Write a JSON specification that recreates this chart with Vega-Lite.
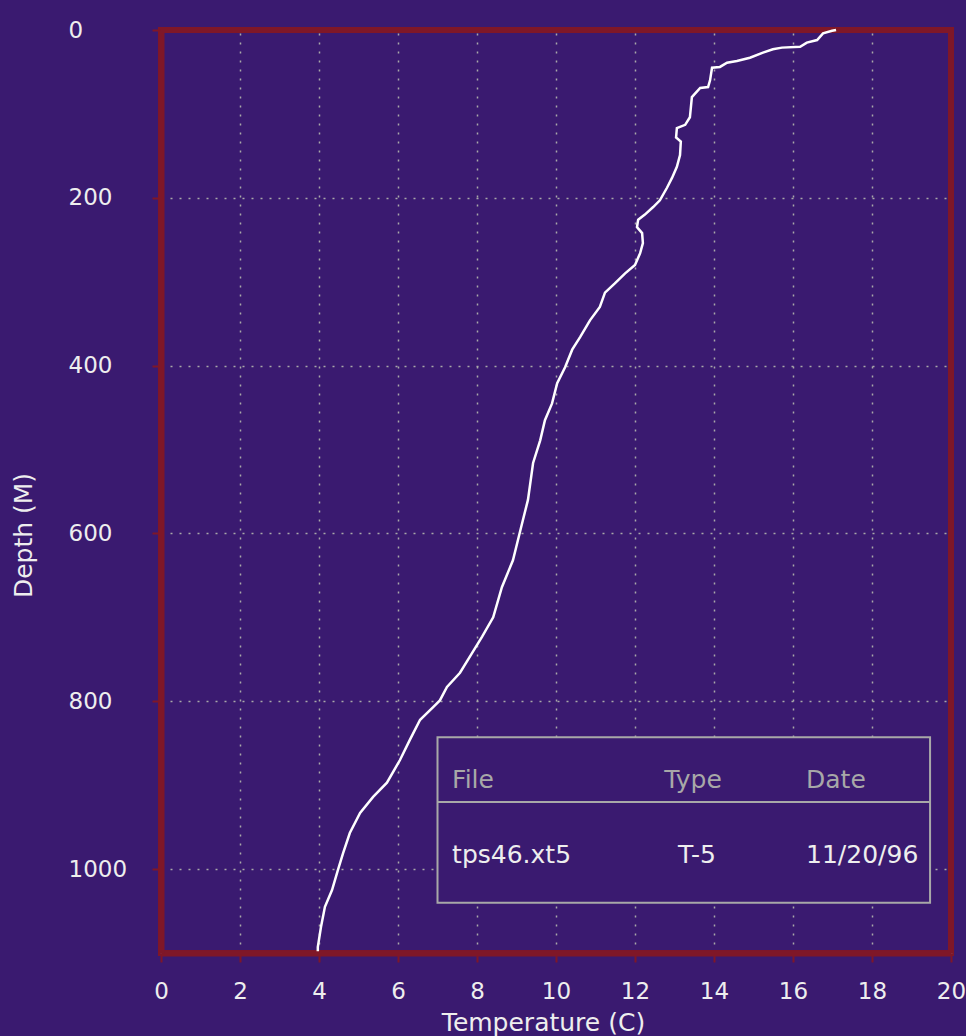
{
  "$schema": "https://vega.github.io/schema/vega-lite/v6.json",
  "width": 790,
  "height": 923,
  "autosize": {"type": "none"},
  "padding": {"left": 161, "top": 30, "right": 15, "bottom": 83},
  "background": "#3a1a70",
  "datasets": {
    "profile": [
      {"temperature": 17.09, "depth": 0},
      {"temperature": 16.99, "depth": 1},
      {"temperature": 16.76, "depth": 4},
      {"temperature": 16.61, "depth": 12},
      {"temperature": 16.35, "depth": 15},
      {"temperature": 16.18, "depth": 20},
      {"temperature": 15.72, "depth": 21},
      {"temperature": 15.49, "depth": 23},
      {"temperature": 15.24, "depth": 27},
      {"temperature": 14.91, "depth": 33},
      {"temperature": 14.58, "depth": 37},
      {"temperature": 14.33, "depth": 39},
      {"temperature": 14.15, "depth": 44},
      {"temperature": 13.95, "depth": 45},
      {"temperature": 13.9, "depth": 60},
      {"temperature": 13.85, "depth": 68},
      {"temperature": 13.65, "depth": 69},
      {"temperature": 13.44, "depth": 80},
      {"temperature": 13.39, "depth": 104},
      {"temperature": 13.27, "depth": 113},
      {"temperature": 13.06, "depth": 117},
      {"temperature": 13.04, "depth": 128},
      {"temperature": 13.16, "depth": 133},
      {"temperature": 13.14, "depth": 149},
      {"temperature": 13.06, "depth": 163},
      {"temperature": 12.94, "depth": 176},
      {"temperature": 12.81, "depth": 188},
      {"temperature": 12.63, "depth": 203},
      {"temperature": 12.46, "depth": 211},
      {"temperature": 12.25, "depth": 220},
      {"temperature": 12.08, "depth": 226},
      {"temperature": 12.05, "depth": 235},
      {"temperature": 12.18, "depth": 242},
      {"temperature": 12.2, "depth": 254},
      {"temperature": 12.13, "depth": 266},
      {"temperature": 12.0, "depth": 280},
      {"temperature": 11.75, "depth": 290},
      {"temperature": 11.49, "depth": 302},
      {"temperature": 11.24, "depth": 313},
      {"temperature": 11.11, "depth": 330},
      {"temperature": 10.86, "depth": 346},
      {"temperature": 10.61, "depth": 366},
      {"temperature": 10.41, "depth": 381},
      {"temperature": 10.23, "depth": 402},
      {"temperature": 10.03, "depth": 421},
      {"temperature": 9.9, "depth": 445},
      {"temperature": 9.72, "depth": 465},
      {"temperature": 9.6, "depth": 489},
      {"temperature": 9.42, "depth": 516},
      {"temperature": 9.29, "depth": 560},
      {"temperature": 9.12, "depth": 592},
      {"temperature": 8.91, "depth": 632},
      {"temperature": 8.63, "depth": 664},
      {"temperature": 8.41, "depth": 700},
      {"temperature": 8.13, "depth": 723},
      {"temperature": 7.87, "depth": 743},
      {"temperature": 7.57, "depth": 766},
      {"temperature": 7.24, "depth": 783},
      {"temperature": 7.06, "depth": 799},
      {"temperature": 6.89, "depth": 807},
      {"temperature": 6.56, "depth": 822},
      {"temperature": 6.3, "depth": 846},
      {"temperature": 6.05, "depth": 870},
      {"temperature": 5.72, "depth": 897},
      {"temperature": 5.37, "depth": 914},
      {"temperature": 5.04, "depth": 933},
      {"temperature": 4.78, "depth": 957},
      {"temperature": 4.61, "depth": 981},
      {"temperature": 4.48, "depth": 1001},
      {"temperature": 4.33, "depth": 1025},
      {"temperature": 4.15, "depth": 1045},
      {"temperature": 4.05, "depth": 1069},
      {"temperature": 3.97, "depth": 1093},
      {"temperature": 3.97, "depth": 1098}
    ],
    "legend": [
      {"File": "tps46.xt5", "Type": "T-5", "Date": "11/20/96"}
    ]
  },
  "layer": [
    {
      "data": {"name": "legend"},
      "mark": {"type": "rule", "stroke": "#7f1728", "strokeWidth": 6},
      "encoding": {
        "x": {"datum": 20, "type": "quantitative", "title": "Temperature (C)", "axis": {"values": [0, 2, 4, 6, 8, 10, 12, 14, 16, 18, 20], "format": "d"}},
        "y": {"datum": 0, "type": "quantitative", "title": "Depth (M)", "axis": {"values": [0, 200, 400, 600, 800, 1000], "format": "d"}},
        "y2": {"datum": 1100}
      }
    },
    {
      "data": {"name": "legend"},
      "mark": {"type": "rule", "stroke": "#7f1728", "strokeWidth": 6},
      "encoding": {
        "x": {"datum": 0, "type": "quantitative", "title": "Temperature (C)", "axis": {"values": [0, 2, 4, 6, 8, 10, 12, 14, 16, 18, 20], "format": "d"}},
        "x2": {"datum": 20},
        "y": {"datum": 0, "type": "quantitative", "title": "Depth (M)", "axis": {"values": [0, 200, 400, 600, 800, 1000], "format": "d"}}
      }
    },
    {
      "data": {"name": "profile"},
      "mark": {"type": "line", "color": "#ffffff", "strokeWidth": 2.5},
      "encoding": {
        "x": {"field": "temperature", "type": "quantitative", "title": "Temperature (C)", "scale": {"domain": [0, 20], "nice": false, "zero": false},
              "axis": {"values": [0, 2, 4, 6, 8, 10, 12, 14, 16, 18, 20], "format": "d"}},
        "y": {"field": "depth", "type": "quantitative", "title": "Depth (M)", "scale": {"domain": [0, 1100], "nice": false, "reverse": true},
              "axis": {"values": [0, 200, 400, 600, 800, 1000], "format": "d"}},
        "order": {"field": "depth", "type": "quantitative"}
      }
    },
    {
      "data": {"name": "legend"},
      "mark": {"type": "rect", "fill": "#3a1a70", "stroke": "#a8a8a8", "strokeWidth": 2},
      "encoding": {
        "x": {"datum": 7.0, "type": "quantitative", "title": "Temperature (C)", "axis": {"values": [0, 2, 4, 6, 8, 10, 12, 14, 16, 18, 20], "format": "d"}},
        "x2": {"datum": 19.47},
        "y": {"datum": 843, "type": "quantitative", "title": "Depth (M)", "axis": {"values": [0, 200, 400, 600, 800, 1000], "format": "d"}},
        "y2": {"datum": 1040}
      }
    },
    {
      "data": {"name": "legend"},
      "mark": {"type": "rule", "stroke": "#a8a8a8", "strokeWidth": 2},
      "encoding": {
        "x": {"datum": 7.0, "type": "quantitative", "title": "Temperature (C)", "axis": {"values": [0, 2, 4, 6, 8, 10, 12, 14, 16, 18, 20], "format": "d"}},
        "x2": {"datum": 19.47},
        "y": {"datum": 920, "type": "quantitative", "title": "Depth (M)", "axis": {"values": [0, 200, 400, 600, 800, 1000], "format": "d"}}
      }
    },
    {
      "data": {"name": "legend"},
      "mark": {"type": "text", "text": "File", "align": "left", "baseline": "middle", "font": "DejaVu Sans", "fontSize": 25, "color": "#a8a8a8"},
      "encoding": {
        "x": {"datum": 7.37, "type": "quantitative", "title": "Temperature (C)", "axis": {"values": [0, 2, 4, 6, 8, 10, 12, 14, 16, 18, 20], "format": "d"}},
        "y": {"datum": 894, "type": "quantitative", "title": "Depth (M)", "axis": {"values": [0, 200, 400, 600, 800, 1000], "format": "d"}}
      }
    },
    {
      "data": {"name": "legend"},
      "mark": {"type": "text", "text": "Type", "align": "center", "baseline": "middle", "font": "DejaVu Sans", "fontSize": 25, "color": "#a8a8a8"},
      "encoding": {
        "x": {"datum": 13.47, "type": "quantitative", "title": "Temperature (C)", "axis": {"values": [0, 2, 4, 6, 8, 10, 12, 14, 16, 18, 20], "format": "d"}},
        "y": {"datum": 894, "type": "quantitative", "title": "Depth (M)", "axis": {"values": [0, 200, 400, 600, 800, 1000], "format": "d"}}
      }
    },
    {
      "data": {"name": "legend"},
      "mark": {"type": "text", "text": "Date", "align": "left", "baseline": "middle", "font": "DejaVu Sans", "fontSize": 25, "color": "#a8a8a8"},
      "encoding": {
        "x": {"datum": 16.33, "type": "quantitative", "title": "Temperature (C)", "axis": {"values": [0, 2, 4, 6, 8, 10, 12, 14, 16, 18, 20], "format": "d"}},
        "y": {"datum": 894, "type": "quantitative", "title": "Depth (M)", "axis": {"values": [0, 200, 400, 600, 800, 1000], "format": "d"}}
      }
    },
    {
      "data": {"name": "legend"},
      "mark": {"type": "text", "align": "left", "baseline": "middle", "font": "DejaVu Sans", "fontSize": 25, "color": "#eeeeee"},
      "encoding": {
        "text": {"field": "File"},
        "x": {"datum": 7.37, "type": "quantitative", "title": "Temperature (C)", "axis": {"values": [0, 2, 4, 6, 8, 10, 12, 14, 16, 18, 20], "format": "d"}},
        "y": {"datum": 983, "type": "quantitative", "title": "Depth (M)", "axis": {"values": [0, 200, 400, 600, 800, 1000], "format": "d"}}
      }
    },
    {
      "data": {"name": "legend"},
      "mark": {"type": "text", "align": "center", "baseline": "middle", "font": "DejaVu Sans", "fontSize": 25, "color": "#eeeeee"},
      "encoding": {
        "text": {"field": "Type"},
        "x": {"datum": 13.57, "type": "quantitative", "title": "Temperature (C)", "axis": {"values": [0, 2, 4, 6, 8, 10, 12, 14, 16, 18, 20], "format": "d"}},
        "y": {"datum": 983, "type": "quantitative", "title": "Depth (M)", "axis": {"values": [0, 200, 400, 600, 800, 1000], "format": "d"}}
      }
    },
    {
      "data": {"name": "legend"},
      "mark": {"type": "text", "align": "left", "baseline": "middle", "font": "DejaVu Sans", "fontSize": 25, "color": "#eeeeee"},
      "encoding": {
        "text": {"field": "Date"},
        "x": {"datum": 16.33, "type": "quantitative", "title": "Temperature (C)", "axis": {"values": [0, 2, 4, 6, 8, 10, 12, 14, 16, 18, 20], "format": "d"}},
        "y": {"datum": 983, "type": "quantitative", "title": "Depth (M)", "axis": {"values": [0, 200, 400, 600, 800, 1000], "format": "d"}}
      }
    }
  ],
  "config": {
    "view": {"stroke": "#7f1728", "strokeWidth": 6},
    "axis": {
      "domain": true,
      "domainColor": "#7f1728",
      "domainWidth": 6,
      "grid": true,
      "gridColor": "#a8a8a8",
      "gridDash": [2, 7],
      "gridWidth": 1.5,
      "gridOpacity": 1,
      "tickColor": "#7f1728",
      "tickWidth": 2,
      "tickSize": 9,
      "labelFont": "DejaVu Sans",
      "labelFontSize": 23,
      "labelColor": "#eeeeee",
      "labelFlush": false,
      "labelOverlap": false,
      "titleFont": "DejaVu Sans",
      "titleFontSize": 25,
      "titleFontWeight": "normal",
      "titleColor": "#eeeeee"
    },
    "axisX": {
      "labelPadding": 18,
      "titleX": 382,
      "titleY": 69,
      "titleBaseline": "middle",
      "titleAlign": "center"
    },
    "axisY": {
      "labelAlign": "left",
      "labelBaseline": "middle",
      "labelPadding": 84,
      "titleX": -138,
      "titleY": 505,
      "titleAngle": -90,
      "titleBaseline": "middle",
      "titleAlign": "center"
    }
  }
}
